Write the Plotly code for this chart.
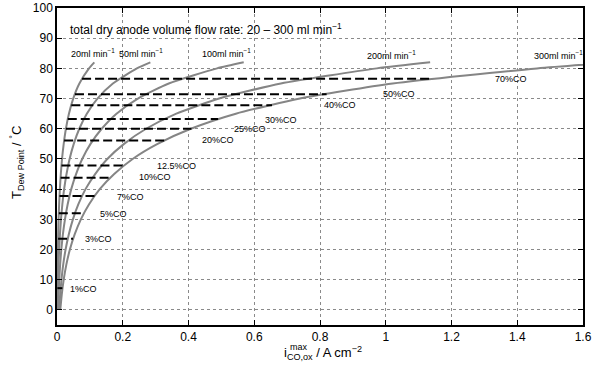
import plotly.graph_objects as go

# ---- data ----
T_grid = [0, 5, 10, 15, 20, 25, 30, 35, 40, 45, 50, 55, 60, 65, 70, 75, 80, 82]

flow_names = ["20ml min<sup>−1</sup>", "50ml min<sup>−1</sup>", "100ml min<sup>−1</sup>",
              "200ml min<sup>−1</sup>", "300ml min<sup>−1</sup>"]
i_20 = [0.0007, 0.0010, 0.0014, 0.0019, 0.0026, 0.0036, 0.0048, 0.0065, 0.0087, 0.0116,
        0.0153, 0.0204, 0.0271, 0.0363, 0.0493, 0.0681, 0.0973, 0.1135]
i_50 = [0.0017, 0.0024, 0.0034, 0.0047, 0.0065, 0.0090, 0.0121, 0.0163, 0.0217, 0.029,
        0.0383, 0.051, 0.0678, 0.0907, 0.123, 0.170, 0.243, 0.284]
i_100 = [0.0033, 0.0048, 0.0068, 0.0095, 0.0131, 0.0179, 0.0242, 0.0325, 0.0433, 0.058,
         0.0767, 0.102, 0.136, 0.181, 0.246, 0.340, 0.487, 0.568]
i_200 = [0.0067, 0.0096, 0.0136, 0.0189, 0.0261, 0.0358, 0.0484, 0.0651, 0.0867, 0.116,
         0.153, 0.204, 0.271, 0.363, 0.493, 0.681, 0.973, 1.135]
i_300 = [0.010, 0.0144, 0.0204, 0.0284, 0.0392, 0.0537, 0.0726, 0.0976, 0.130, 0.174,
         0.230, 0.306, 0.407, 0.544, 0.739, 1.021, 1.460, 1.703]
flow_curves = [i_20, i_50, i_100, i_200, i_300]
flow_label_x = [0.038, 0.184, 0.434, 0.936, 1.445]
flow_label_y = [85.1, 85.1, 85.1, 84.4, 84.4]

co_labels = ["1%CO", "3%CO", "5%CO", "7%CO", "10%CO", "12.5%CO", "20%CO", "25%CO",
             "30%CO", "40%CO", "50%CO", "70%CO"]
co_T = [7.2, 23.6, 32.0, 37.7, 43.8, 47.8, 56.1, 60.0, 63.2, 67.8, 71.4, 76.6]
co_i_start = [0.0011, 0.0033, 0.0055, 0.0076, 0.0109, 0.0136, 0.0218, 0.0273, 0.0327,
              0.0436, 0.0547, 0.0763]
co_i_end = [0.0164, 0.049, 0.082, 0.114, 0.164, 0.204, 0.327, 0.409, 0.49, 0.654, 0.82, 1.144]
co_label_x = [0.032, 0.078, 0.126, 0.175, 0.242, 0.297, 0.434, 0.531, 0.626, 0.805, 0.985, 1.326]
co_label_y = [7.0, 23.5, 31.8, 37.4, 44.0, 47.7, 56.3, 59.9, 62.9, 67.9, 71.5, 76.5]

x_ticks = [0, 0.2, 0.4, 0.6, 0.8, 1.0, 1.2, 1.4, 1.6]
x_ticklabels = ["0", "0.2", "0.4", "0.6", "0.8", "1", "1.2", "1.4", "1.6"]
y_ticks = [0, 10, 20, 30, 40, 50, 60, 70, 80, 90, 100]

FONT = "Liberation Sans, Arial, Helvetica, sans-serif"

fig = go.Figure()

for xs in flow_curves:
    fig.add_trace(go.Scatter(x=xs, y=T_grid, mode="lines",
                             line=dict(color="#858585", width=2, shape="spline", smoothing=0.6),
                             showlegend=False, hoverinfo="skip"))

for t, xs0, xs1 in zip(co_T, co_i_start, co_i_end):
    fig.add_trace(go.Scatter(x=[xs0, xs1], y=[t, t], mode="lines",
                             line=dict(color="black", width=2, dash="9px,4px"),
                             showlegend=False, hoverinfo="skip"))

annotations = []
for txt, ax, ay in zip(flow_names, flow_label_x, flow_label_y):
    annotations.append(dict(x=ax, y=ay, xref="x", yref="y", text=txt, showarrow=False,
                            xanchor="left", yanchor="middle",
                            font=dict(family=FONT, size=9, color="black")))
for txt, ax, ay in zip(co_labels, co_label_x, co_label_y):
    annotations.append(dict(x=ax, y=ay, xref="x", yref="y", text=txt, showarrow=False,
                            xanchor="left", yanchor="middle",
                            font=dict(family=FONT, size=9, color="black")))

annotations.append(dict(x=0.032, y=93.0, xref="x", yref="y",
                        text="total dry anode volume flow rate: 20 – 300 ml min<sup>−1</sup>",
                        showarrow=False, xanchor="left", yanchor="middle",
                        font=dict(family=FONT, size=12, color="black")))

# axis titles
annotations.append(dict(x=(282 - 57) / 526, y=(325 - 353) / 317, xref="paper", yref="paper",
                        text="i<sub>CO,ox</sub> / A cm<sup>−2</sup>", showarrow=False,
                        xanchor="left", yanchor="middle",
                        font=dict(family=FONT, size=13, color="black")))
annotations.append(dict(x=(288 - 57) / 526, y=(325 - 347) / 317, xref="paper", yref="paper",
                        text="max", showarrow=False, xanchor="left", yanchor="middle",
                        font=dict(family=FONT, size=9, color="black")))
annotations.append(dict(x=(17 - 57) / 526, y=(325 - 163) / 317, xref="paper", yref="paper",
                        text="T<sub>Dew Point</sub> / <sup>°</sup>C", showarrow=False,
                        textangle=-90, xanchor="center", yanchor="middle",
                        font=dict(family=FONT, size=13, color="black")))

axis_common = dict(showline=True, linecolor="black", linewidth=1.5, mirror="ticks",
                   ticks="inside", ticklen=5, tickwidth=1, tickcolor="black",
                   showgrid=True, gridcolor="#8a8a8a", griddash="dot", gridwidth=1,
                   zeroline=False, automargin=False,
                   tickfont=dict(family=FONT, size=12, color="black"))

fig.update_xaxes(range=[0, 1.6], tickvals=x_ticks, ticktext=x_ticklabels, **axis_common)
fig.update_yaxes(range=[-5, 100], tickvals=y_ticks, **axis_common)

fig.update_layout(width=592, height=368, margin=dict(l=57, r=9, t=8, b=43),
                  paper_bgcolor="white", plot_bgcolor="white",
                  annotations=annotations, showlegend=False,
                  font=dict(family=FONT, color="black"))

fig.write_html("out.html")
